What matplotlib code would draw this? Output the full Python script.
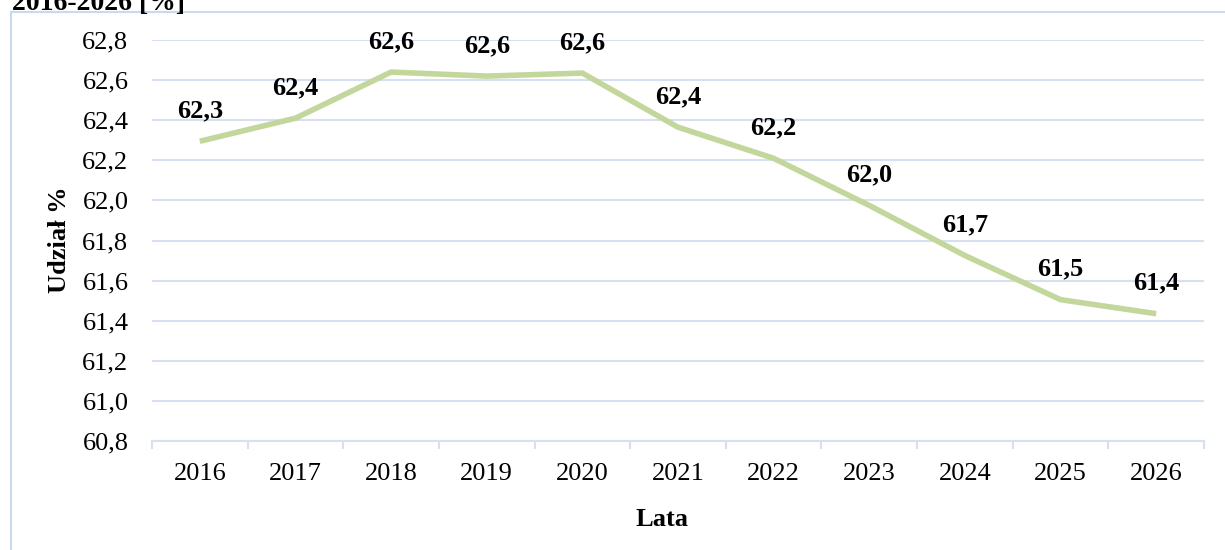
import matplotlib
matplotlib.use("Agg")
import matplotlib.pyplot as plt
from matplotlib.patches import Rectangle
import numpy as np

years = ["2016", "2017", "2018", "2019", "2020", "2021", "2022", "2023", "2024", "2025", "2026"]
values = [62.295, 62.41, 62.64, 62.62, 62.635, 62.365, 62.21, 61.975, 61.725, 61.505, 61.435]
labels = ["62,3", "62,4", "62,6", "62,6", "62,6", "62,4", "62,2", "62,0", "61,7", "61,5", "61,4"]
yticks = [60.8, 61.0, 61.2, 61.4, 61.6, 61.8, 62.0, 62.2, 62.4, 62.6, 62.8]

plt.rcParams['font.family'] = ['Liberation Serif', 'DejaVu Serif']

W, H = 1225, 550
fig = plt.figure(figsize=(W / 100, H / 100), dpi=100)
grid_c = "#d6e0f0"
FS = 19

# outer frame
fig.patches.append(Rectangle((11 / W, -0.1), 1.2, (H - 12) / H + 0.1, transform=fig.transFigure,
                             fill=False, edgecolor="#c9d9ee", linewidth=1.5))
fig.text(12 / W, 1 - 3 / H, "2016-2026 [%]", fontsize=20, fontweight="bold", va="center", ha="left")

ax = fig.add_axes([152 / W, 1 - 441 / H, (1204 - 152) / W, (441 - 40) / H])
x = np.arange(len(years))
ax.plot(x, values, color="#c3d69b", linewidth=4, solid_joinstyle="miter", solid_capstyle="butt")
for xi, v, lab in zip(x, values, labels):
    ax.annotate(lab, (xi, v), xytext=(0, 22), textcoords="offset points", ha="center", va="center",
                fontsize=FS, fontweight="bold")

ax.set_xlim(-0.5, len(years) - 0.5)
ax.set_ylim(60.8, 62.8)
ax.set_yticks(yticks)
ax.set_yticklabels([f"{t:.1f}".replace(".", ",") for t in yticks], fontsize=FS)
ax.set_xticks(x)
ax.set_xticklabels(years, fontsize=FS)
ax.set_xticks(np.arange(-0.5, len(years)), minor=True)
ax.tick_params(axis="x", which="major", length=0, pad=16)
ax.tick_params(axis="x", which="minor", length=6, color=grid_c, width=1.5)
ax.tick_params(axis="y", length=0, pad=17)
ax.grid(axis="y", color=grid_c, linewidth=1.5)
ax.set_axisbelow(True)
for s in ["left", "right", "top"]:
    ax.spines[s].set_visible(False)
ax.spines["bottom"].set_color(grid_c)
ax.spines["bottom"].set_linewidth(1.5)

fig.text(662 / W, 1 - 520 / H, "Lata", fontsize=FS, fontweight="bold", va="center", ha="center")
fig.text(59 / W, 1 - 240 / H, "Udział %", fontsize=FS, fontweight="bold", rotation=90, va="center", ha="center")

fig.savefig("out.png", dpi=100)
